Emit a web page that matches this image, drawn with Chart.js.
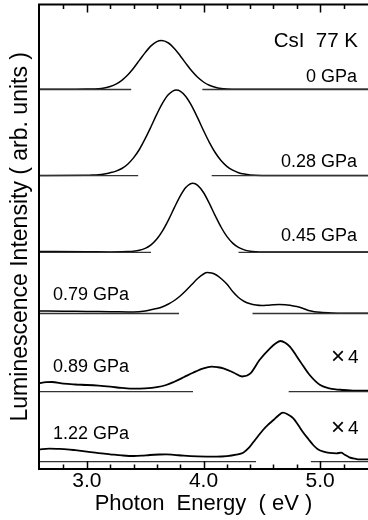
<!DOCTYPE html>
<html><head><meta charset="utf-8">
<script src="https://cdn.jsdelivr.net/npm/chart.js@4.4.0/dist/chart.umd.min.js"></script>
<style>html,body{margin:0;padding:0;background:#fff;}#wrap{width:368px;height:520px;}</style>
</head><body><div id="wrap"><canvas id="c" width="368" height="520"></canvas></div>
<script>
// ---- data (photon energy in eV, intensity in arb. units) ----
const pressures = ['0 GPa', '0.28 GPa', '0.45 GPa', '0.79 GPa', '0.89 GPa', '1.22 GPa'];
const offsets = [379.5, 293.3, 216.7, 155.5, 77.3, 7.3];
const scaleNotes = ['', '', '', '', '4', '4'];

const E_0 = [2.59, 2.9, 3.0, 3.1, 3.15, 3.2, 3.25, 3.3, 3.35, 3.4, 3.45, 3.5, 3.55, 3.6, 3.64, 3.7, 3.75, 3.8, 3.85, 3.9, 3.95, 4.0, 4.05, 4.1, 4.15, 4.2, 4.3, 4.6, 5.0, 5.41];
const I_0 = [0.3, 0.3, 0.4, 0.8, 1.6, 3.0, 5.4, 9.2, 14.5, 21.3, 29.1, 36.9, 43.6, 47.9, 49, 46.5, 41.1, 33.8, 25.9, 18.4, 12.2, 7.5, 4.3, 2.3, 1.1, 0.5, 0.2, 0.2, 0.2, 0.2];

const E_028 = [2.59, 3.0, 3.05, 3.1, 3.15, 3.2, 3.25, 3.3, 3.35, 3.4, 3.45, 3.5, 3.55, 3.6, 3.65, 3.7, 3.767, 3.8, 3.85, 3.9, 3.95, 4.0, 4.05, 4.1, 4.15, 4.2, 4.25, 4.3, 4.35, 4.4, 4.5, 4.8, 5.41];
const I_028 = [0.3, 0.4, 0.6, 1.0, 1.8, 3.0, 4.6, 7.2, 11.5, 17.8, 26.2, 37.0, 49.0, 61.5, 72.8, 81.2, 85.7, 84.6, 79.0, 69.6, 57.8, 45.2, 33.4, 23.2, 15.2, 9.4, 5.5, 3.0, 1.6, 0.8, 0.3, 0.2, 0.2];

const E_045 = [2.59, 3.0, 3.2, 3.3, 3.35, 3.4, 3.45, 3.5, 3.55, 3.6, 3.65, 3.7, 3.75, 3.8, 3.85, 3.909, 3.95, 4.0, 4.05, 4.1, 4.15, 4.2, 4.25, 4.3, 4.35, 4.4, 4.45, 4.5, 4.8, 5.41];
const I_045 = [0.8, 0.6, 0.4, 0.5, 0.7, 1.1, 2.0, 3.9, 7.4, 13.2, 21.6, 32.4, 44.6, 56.2, 65.0, 69, 67.0, 59.8, 48.9, 36.7, 25.3, 15.9, 9.2, 4.9, 2.4, 1.1, 0.5, 0.2, 0.2, 0.2];

const E_079 = [2.59, 2.8, 3.0, 3.2, 3.4, 3.5, 3.55, 3.6, 3.65, 3.7, 3.75, 3.8, 3.85, 3.9, 3.95, 4.0, 4.03, 4.07, 4.11, 4.15, 4.2, 4.25, 4.3, 4.35, 4.4, 4.45, 4.5, 4.55, 4.6, 4.65, 4.7, 4.75, 4.8, 4.85, 4.9, 4.95, 5.0, 5.1, 5.2, 5.41];
const I_079 = [2.5, 2.3, 2.0, 1.8, 1.5, 2.5, 3.8, 5.0, 6.8, 9.5, 13.0, 17.5, 23.0, 29.0, 35.0, 39.5, 41.0, 40.5, 38.5, 35.0, 29.5, 22.0, 16.0, 12.0, 9.7, 8.5, 8.0, 8.3, 8.8, 9.0, 8.8, 8.0, 7.0, 5.3, 3.0, 1.8, 1.2, 0.6, 0.3, 0.2];

const E_089 = [2.59, 2.65, 2.7, 2.8, 2.9, 3.0, 3.1, 3.2, 3.3, 3.4, 3.5, 3.6, 3.68, 3.75, 3.83, 3.91, 4.0, 4.07, 4.12, 4.17, 4.26, 4.33, 4.4, 4.48, 4.57, 4.62, 4.66, 4.7, 4.74, 4.83, 4.91, 5.0, 5.08, 5.2, 5.3, 5.41];
const I_089 = [8.4, 9.5, 9.7, 8.0, 7.2, 6.7, 6.0, 5.0, 3.8, 3.0, 3.3, 4.5, 6.7, 10.0, 14.4, 19.0, 23.4, 25.0, 24.5, 23.4, 19.0, 15.2, 18.0, 31.7, 43.4, 48.5, 50.7, 49.0, 45.0, 30.0, 16.7, 6.7, 3.4, 1.7, 1.0, 1.0];

const E_122 = [2.59, 2.68, 2.75, 2.83, 2.9, 3.0, 3.1, 3.2, 3.3, 3.4, 3.47, 3.54, 3.62, 3.68, 3.75, 3.83, 3.95, 4.11, 4.2, 4.28, 4.34, 4.39, 4.43, 4.47, 4.51, 4.55, 4.6, 4.64, 4.68, 4.72, 4.77, 4.81, 4.85, 4.9, 4.94, 4.98, 5.03, 5.08, 5.14, 5.18, 5.21, 5.25, 5.3, 5.34, 5.41];
const I_122 = [12.4, 13.0, 12.8, 12.4, 11.5, 10.0, 8.5, 7.4, 6.3, 5.7, 6.0, 6.7, 7.2, 7.4, 6.8, 6.0, 5.3, 5.0, 5.5, 7.0, 9.0, 14.0, 20.0, 26.0, 31.7, 36.5, 41.7, 46.0, 49.0, 47.5, 43.4, 37.0, 30.0, 22.5, 16.7, 12.5, 10.0, 8.8, 8.4, 9.0, 7.0, 4.4, 3.0, 2.4, 2.4];

const energies = [E_0, E_028, E_045, E_079, E_089, E_122];
const intensities = [I_0, I_028, I_045, I_079, I_089, I_122];

// zero-line segments (eV) for each trace
const baseLeftEnd = [3.38, 3.44, 3.55, 3.79, 3.91, 4.45];
const baseRightStart = [3.99, 4.07, 4.30, 4.42, 4.73, 4.92];

const xMin = 2.59, xMax = 5.41;
const yMin = 0, yMax = 464.5;
const tickValues = [2.8, 3.0, 3.2, 3.4, 3.6, 3.8, 4.0, 4.2, 4.4, 4.6, 4.8, 5.0, 5.2];
const majorTicks = [3.0, 4.0, 5.0];
const tickLabels = ['3.0', '4.0', '5.0'];

// ---- build datasets ----
const FONT = '"Liberation Sans", Arial, Helvetica, sans-serif';
Chart.defaults.font.family = FONT;
Chart.defaults.color = '#000';

const datasets = [];
pressures.forEach((p, k) => {
  datasets.push({
    label: 'zero ' + p,
    data: [{x: xMin, y: offsets[k]}, {x: baseLeftEnd[k], y: offsets[k]}, {x: baseLeftEnd[k], y: null},
           {x: baseRightStart[k], y: offsets[k]}, {x: xMax, y: offsets[k]}],
    showLine: true, spanGaps: false, borderColor: '#333', borderWidth: 1.3, pointRadius: 0, tension: 0
  });
});
pressures.forEach((p, k) => {
  datasets.push({
    label: p,
    data: energies[k].map((e, i) => ({x: e, y: offsets[k] + intensities[k][i]})),
    showLine: true, borderColor: '#000', borderWidth: scaleNotes[k] ? 1.8 : 1.5, pointRadius: 0,
    cubicInterpolationMode: 'monotone'
  });
});

const framePlugin = {
  id: 'frame',
  afterDatasetsDraw(chart) {
    const {ctx, chartArea: a, scales: {x}} = chart;
    ctx.save();
    ctx.strokeStyle = '#000';
    ctx.lineWidth = 2;
    ctx.beginPath();
    ctx.moveTo(a.right + 2, a.top); ctx.lineTo(a.left, a.top); ctx.lineTo(a.left, a.bottom); ctx.lineTo(a.right + 2, a.bottom);
    ctx.stroke();
    ctx.lineWidth = 1.5;
    tickValues.forEach(v => {
      const px = Math.round(x.getPixelForValue(v)) + 0.5;
      const major = majorTicks.some(m => Math.abs(m - v) < 1e-6);
      const len = major ? 8 : 4.5;
      ctx.beginPath();
      ctx.moveTo(px, a.bottom); ctx.lineTo(px, a.bottom - len);
      ctx.moveTo(px, a.top); ctx.lineTo(px, a.top + len);
      ctx.stroke();
    });
    // annotations
    ctx.fillStyle = '#000';
    ctx.textBaseline = 'alphabetic';
    ctx.font = '20.5px ' + FONT;
    ctx.textAlign = 'right';
    ctx.fillText('CsI  77 K', 358, 47.3);
    ctx.font = '18px ' + FONT;
    const rightY = [81.7, 166.7, 240.7];
    const leftY = [300, 371.7, 439.3];
    pressures.forEach((p, k) => {
      if (k < 3) { ctx.textAlign = 'right'; ctx.fillText(p, 357, rightY[k]); }
      else { ctx.textAlign = 'left'; ctx.fillText(p, 53, leftY[k - 3]); }
    });
    const noteY = {4: 363.3, 5: 434};
    scaleNotes.forEach((n, k) => {
      if (!n) return;
      ctx.textAlign = 'left';
      ctx.font = '24px ' + FONT;
      ctx.fillText('\u00d7', 331, noteY[k] + 0.5);
      ctx.font = '19px ' + FONT;
      ctx.fillText(n, 348, noteY[k]);
    });
    ctx.restore();
  }
};

new Chart(document.getElementById('c'), {
  type: 'scatter',
  data: {datasets},
  options: {
    responsive: false, animation: false, devicePixelRatio: 1,
    layout: {padding: {top: 4.5, left: 0, right: 0, bottom: 0}},
    plugins: {legend: {display: false}, tooltip: {enabled: false}},
    scales: {
      x: {
        type: 'linear', min: xMin, max: xMax,
        afterBuildTicks: s => { s.ticks = tickValues.map(v => ({value: v})); },
        afterFit: s => { s.height = 51; },
        grid: {display: false, drawTicks: false},
        border: {display: false},
        ticks: {
          autoSkip: false, maxRotation: 0, padding: 0, color: '#000',
          font: {size: 21, family: FONT},
          callback: v => { const i = majorTicks.findIndex(m => Math.abs(m - v) < 1e-6); return i >= 0 ? tickLabels[i] : ''; }
        },
        title: {display: true, text: 'Photon  Energy  ( eV )', color: '#000', font: {size: 22, family: FONT}, padding: {top: 0, bottom: 2.4}}
      },
      y: {
        type: 'linear', min: yMin, max: yMax,
        afterFit: s => { s.width = 39; },
        grid: {display: false, drawTicks: false},
        border: {display: false},
        ticks: {display: false},
        title: {display: true, text: 'Luminescence Intensity ( arb. units )', color: '#000', font: {size: 23, family: FONT}, padding: {top: 6.8, bottom: 0}}
      }
    }
  },
  plugins: [framePlugin]
});
</script></body></html>
